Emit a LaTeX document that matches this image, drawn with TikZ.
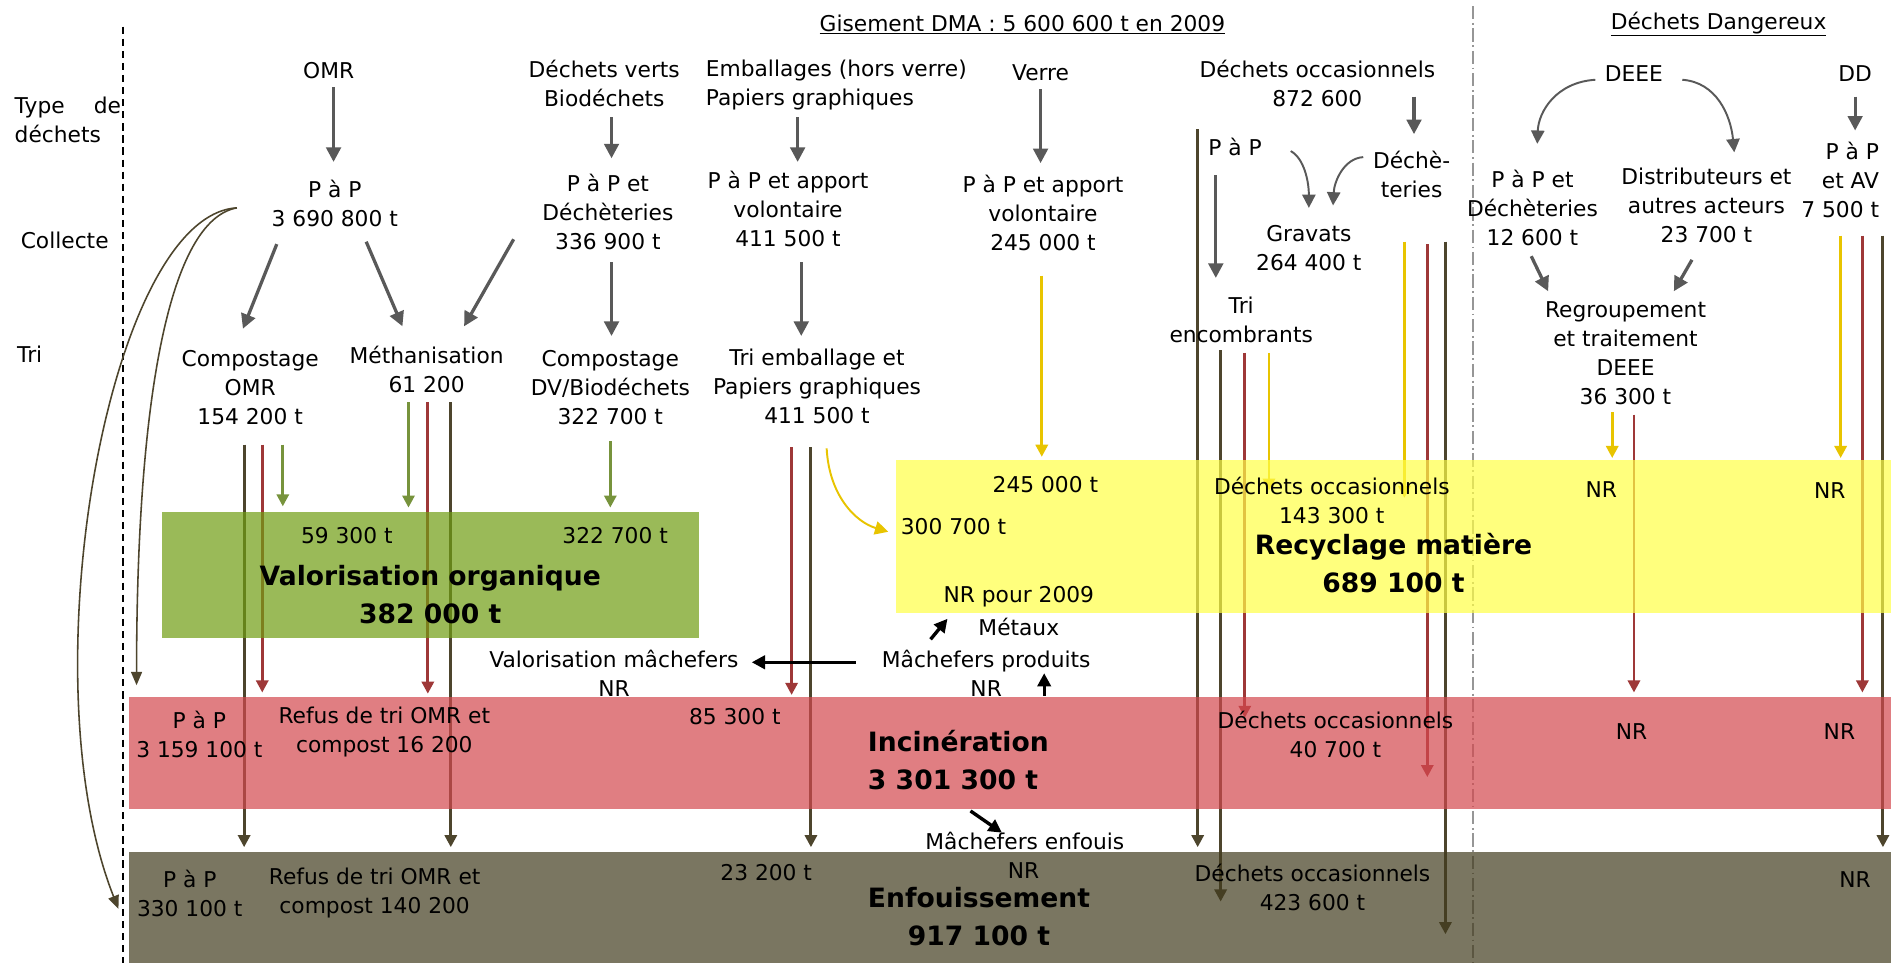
\documentclass[tikz,border=0pt]{standalone}
\usepackage{fontspec}
\setmainfont{DejaVu Sans}
\usetikzlibrary{arrows.meta}
\pgfdeclarelayer{bg}
\pgfdeclarelayer{lines}
\pgfdeclarelayer{bands}
\pgfsetlayers{bg,lines,bands,main}
\definecolor{cgray}{RGB}{89,89,89}
\definecolor{cbrown}{RGB}{77,69,45}
\definecolor{cred}{RGB}{158,56,56}
\definecolor{cgreen}{RGB}{119,147,60}
\definecolor{cyellow}{RGB}{232,196,0}
\definecolor{bgreen}{RGB}{112,158,18}
\definecolor{bred}{RGB}{212,72,78}
\definecolor{byellow}{RGB}{255,255,70}
\definecolor{bbrown}{RGB}{66,60,30}
\definecolor{sepgray}{RGB}{150,150,150}
\begin{document}
\begin{tikzpicture}[x=1pt,y=-1pt,
 txt/.style={font=\fontsize{18}{24}\selectfont,align=center,inner sep=0pt},
 bigtxt/.style={font=\bfseries\fontsize{22}{31}\selectfont,align=center,inner sep=0pt},
 grayarr/.style={draw=cgray,line width=2.7pt,-{Triangle[length=12pt,width=12pt]}},
 graycurve/.style={draw=cgray,line width=1.6pt,-{Triangle[length=11pt,width=11pt]}},
 flow/.style={line width=2.4pt,-{Triangle[length=10pt,width=10pt]}},
 browncurve/.style={draw=cbrown,line width=1.3pt,-{Triangle[length=11pt,width=9pt]}},
 blackarr/.style={draw=black,line width=2.8pt,-{Triangle[length=11pt,width=11pt]}},
 band/.style={draw=none,fill opacity=0.7,inner sep=0pt},
]
\useasboundingbox (0,0) rectangle (1568,797);
\begin{pgfonlayer}{bg}
\fill[white] (0,0) rectangle (1568,797);
\end{pgfonlayer}

% ---------- headers and left labels ----------
\node[txt] (gis) at (846,20) {\underline{Gisement DMA : 5 600 600 t en 2009}};
\node[txt] (dang) at (1422,20) {\underline{Déchets Dangereux}};
\node[txt,align=left,anchor=west] (typ) at (12,99) {\makebox[88pt][s]{Type de}\\déchets};
\node[txt,anchor=west] (col) at (17,199) {Collecte};
\node[txt,anchor=west] (tri) at (14,293) {Tri};

% ---------- types ----------
\node[txt] (omr) at (272,58) {OMR};
\node[txt] (dv) at (500,69) {Déchets verts\\Biodéchets};
\node[txt,align=left] (emb) at (692,70) {Emballages (hors verre)\\Papiers graphiques};
\node[txt] (verre) at (861,60) {Verre};
\node[txt] (occ) at (1090,69) {Déchets occasionnels\\872 600};
\node[txt] (deee) at (1352,61) {DEEE};
\node[txt] (ddn) at (1535,61) {DD};

% ---------- collecte ----------
\node[txt] (pap1) at (277,168) {P à P\\3 690 800 t};
\node[txt] (pap2) at (503,175) {P à P et\\Déchèteries\\336 900 t};
\node[txt] (pap3) at (652,173) {P à P et apport\\volontaire\\411 500 t};
\node[txt] (pap4) at (863,176) {P à P et apport\\volontaire\\245 000 t};
\node[txt] (pap5) at (1022,122) {P à P};
\node[txt] (dech) at (1168,144) {Déchè-\\teries};
\node[txt] (grav) at (1083,205) {Gravats\\264 400 t};
\node[txt] (pap6) at (1268,172) {P à P et\\Déchèteries\\12 600 t};
\node[txt] (distr) at (1412,170) {Distributeurs et\\autres acteurs\\23 700 t};
\node[txt,align=right,anchor=east] (pap7) at (1555,149) {P à P\\et AV\\7 500 t};

% ---------- tri ----------
\node[txt] (comp1) at (207,321) {Compostage\\OMR\\154 200 t};
\node[txt] (meth) at (353,306) {Méthanisation\\61 200};
\node[txt] (comp2) at (505,321) {Compostage\\DV/Biodéchets\\322 700 t};
\node[txt] (triemb) at (676,320) {Tri emballage et\\Papiers graphiques\\411 500 t};
\node[txt] (trienc) at (1027,265) {Tri\\encombrants};
\node[txt] (regr) at (1345,292) {Regroupement\\et traitement\\DEEE\\36 300 t};

% ---------- bands ----------
\begin{pgfonlayer}{bands}
\node[band,fill=bgreen,minimum width=444pt,minimum height=104pt] (bxg) at (356,476) {};
\node[band,fill=byellow,minimum width=824pt,minimum height=126pt] (bxy) at (1153,444) {};
\node[band,fill=bred,minimum width=1458pt,minimum height=92pt] (bxr) at (836,623) {};
\node[band,fill=bbrown,minimum width=1458pt,minimum height=92pt] (bxe) at (836,751) {};
\end{pgfonlayer}

% ---------- band texts ----------
\node[txt] (g1) at (287,443) {59 300 t};
\node[txt] (g2) at (509,443) {322 700 t};
\node[bigtxt] (g3) at (356,492) {Valorisation organique\\382 000 t};
\node[txt] (y1) at (865,401) {245 000 t};
\node[txt] (y2) at (789,436) {300 700 t};
\node[txt] (y3) at (843,494) {NR pour 2009};
\node[txt] (y4) at (1102,414) {Déchets occasionnels\\143 300 t};
\node[bigtxt] (y5) at (1153,466) {Recyclage matière\\689 100 t};
\node[txt] (y6) at (1325,405) {NR};
\node[txt] (y7) at (1514,406) {NR};
\node[txt] (r1) at (165,608) {P à P\\3 159 100 t};
\node[txt] (r2) at (318,606) {Refus de tri OMR et\\compost 16 200};
\node[txt] (r3) at (608,593) {85 300 t};
\node[bigtxt,align=left,anchor=west] (r4) at (718,629) {Incinération\\3 301 300 t};
\node[txt] (r5) at (1105,608) {Déchets occasionnels\\40 700 t};
\node[txt] (r6) at (1350,605) {NR};
\node[txt] (r7) at (1522,605) {NR};
\node[txt] (e1) at (157,739) {P à P\\330 100 t};
\node[txt] (e2) at (310,739) {Refus de tri OMR et\\compost 140 200};
\node[txt] (e3) at (634,722) {23 200 t};
\node[txt] (e4) at (847,720) {NR};
\node[bigtxt,anchor=west] (e5) at (718,743) {Enfouissement};
\node[bigtxt] (e6) at (810,774) {917 100 t};
\node[txt] (e7) at (1086,734) {Déchets occasionnels\\423 600 t};
\node[txt] (e8) at (1535,728) {NR};

% ---------- middle texts ----------
\node[txt] (met) at (843,519) {Métaux};
\node[txt] (mp) at (816,557) {Mâchefers produits\\NR};
\node[txt] (vm) at (508,557) {Valorisation mâchefers\\NR};
\node[txt] (me) at (848,696) {Mâchefers enfouis};

% ---------- coordinates for connectors ----------
\coordinate (a1s) at (276,72);   \coordinate (a1e) at (276,134);
\coordinate (a2s) at (506,97);   \coordinate (a2e) at (506,131);
\coordinate (a3s) at (660,97);   \coordinate (a3e) at (660,134);
\coordinate (a4s) at (861,74);   \coordinate (a4e) at (861,135);
\coordinate (a5s) at (1170,80);  \coordinate (a5e) at (1170,111);
\coordinate (a6s) at (1535,80);  \coordinate (a6e) at (1535,108);
\coordinate (dls) at (1320,66);  \coordinate (dle) at (1272,119);
\coordinate (drs) at (1392,66);  \coordinate (dre) at (1435,126);
\coordinate (b1s) at (229,202);  \coordinate (b1e) at (201,272);
\coordinate (b2s) at (303,200);  \coordinate (b2e) at (333,270);
\coordinate (b3s) at (425,198);  \coordinate (b3e) at (384,270);
\coordinate (b4s) at (506,217);  \coordinate (b4e) at (506,278);
\coordinate (b5s) at (663,217);  \coordinate (b5e) at (663,278);
\coordinate (b6s) at (1006,145); \coordinate (b6e) at (1006,230);
\coordinate (c1s) at (1068,125); \coordinate (c1e) at (1083,172);
\coordinate (c2s) at (1128,130); \coordinate (c2e) at (1103,170);
\coordinate (d1s) at (1267,212); \coordinate (d1e) at (1281,241);
\coordinate (d2s) at (1400,215); \coordinate (d2e) at (1385,241);
\coordinate (k1s) at (708,548);  \coordinate (k1e) at (622,548);
\coordinate (k2s) at (770,529);  \coordinate (k2e) at (784,512);
\coordinate (k3s) at (864,576);  \coordinate (k3e) at (864,557);
\coordinate (k4s) at (803,671);  \coordinate (k4e) at (829,689);

% ---------- separators ----------
\begin{pgfonlayer}{lines}
\draw[black,line width=1.3pt,dash pattern=on 6pt off 4pt] (102,22) -- (102,797);
\draw[sepgray,line width=1.3pt,dash pattern=on 11pt off 3pt on 1.5pt off 3pt] (1219,5) -- (1219,797);

% gray arrows
\draw[grayarr] (a1s) -- (a1e);
\draw[grayarr] (a2s) -- (a2e);
\draw[grayarr] (a3s) -- (a3e);
\draw[grayarr] (a4s) -- (a4e);
\draw[grayarr] (a5s) -- (a5e);
\draw[grayarr] (a6s) -- (a6e);
\draw[grayarr] (b1s) -- (b1e);
\draw[grayarr] (b2s) -- (b2e);
\draw[grayarr] (b3s) -- (b3e);
\draw[grayarr] (b4s) -- (b4e);
\draw[grayarr] (b5s) -- (b5e);
\draw[grayarr] (b6s) -- (b6e);
\draw[grayarr] (d1s) -- (d1e);
\draw[grayarr] (d2s) -- (d2e);
\draw[graycurve] (dls) .. controls (1288,68) and (1273,92) .. (dle);
\draw[graycurve] (drs) .. controls (1420,68) and (1432,95) .. (dre);
\draw[graycurve] (c1s) .. controls (1079,131) and (1083,150) .. (c1e);
\draw[graycurve] (c2s) .. controls (1112,131) and (1104,150) .. (c2e);

% brown curves from P a P
\coordinate (pc1) at (196,172);
\coordinate (pc1e) at (113,567);
\coordinate (pc2e) at (98,752);
\draw[browncurve] (pc1) .. controls (140,182) and (113,330) .. (pc1e);
\draw[browncurve] (pc1) .. controls (90,178) and (22,560) .. (pc2e);

% flows: compostage OMR
\coordinate (f1s) at (202,368); \coordinate (f1e) at (202,701);
\coordinate (f2s) at (217,368); \coordinate (f2e) at (217,573);
\coordinate (f3s) at (234,368); \coordinate (f3e) at (234,419);
\draw[flow,cbrown] (f1s) -- (f1e);
\draw[flow,cred] (f2s) -- (f2e);
\draw[flow,cgreen] (f3s) -- (f3e);
% methanisation
\coordinate (f4s) at (338,333); \coordinate (f4e) at (338,420);
\coordinate (f5s) at (354,333); \coordinate (f5e) at (354,574);
\coordinate (f6s) at (373,333); \coordinate (f6e) at (373,701);
\draw[flow,cgreen] (f4s) -- (f4e);
\draw[flow,cred] (f5s) -- (f5e);
\draw[flow,cbrown] (f6s) -- (f6e);
% compostage DV
\coordinate (f7s) at (505,365); \coordinate (f7e) at (505,420);
\draw[flow,cgreen] (f7s) -- (f7e);
% tri emballage
\coordinate (f8s) at (655,370); \coordinate (f8e) at (655,575);
\coordinate (f9s) at (671,370); \coordinate (f9e) at (671,701);
\coordinate (f10s) at (684,371); \coordinate (f10e) at (735,440);
\draw[flow,cred] (f8s) -- (f8e);
\draw[flow,cbrown] (f9s) -- (f9e);
\draw[cyellow,line width=1.6pt,-{Triangle[length=11pt,width=11pt]}] (f10s) .. controls (686,410) and (708,432) .. (f10e);
% verre
\coordinate (f11s) at (862,228); \coordinate (f11e) at (862,378);
\draw[flow,cyellow] (f11s) -- (f11e);
% dechets occasionnels P a P
\coordinate (f12s) at (991,107); \coordinate (f12e) at (991,701);
\draw[flow,cbrown] (f12s) -- (f12e);
% tri encombrants
\coordinate (f13s) at (1010,290); \coordinate (f13e) at (1010,746);
\coordinate (f14s) at (1030,292); \coordinate (f14e) at (1030,594);
\coordinate (f15s) at (1050,292); \coordinate (f15e) at (1050,406);
\draw[flow,cbrown] (f13s) -- (f13e);
\draw[flow,cred] (f14s) -- (f14e);
\draw[flow,cyellow] (f15s) -- (f15e);
% decheteries
\coordinate (f16s) at (1162,200); \coordinate (f16e) at (1162,412);
\coordinate (f17s) at (1181,202); \coordinate (f17e) at (1181,643);
\coordinate (f18s) at (1196,200); \coordinate (f18e) at (1196,773);
\draw[flow,cyellow] (f16s) -- (f16e);
\draw[flow,cred] (f17s) -- (f17e);
\draw[flow,cbrown] (f18s) -- (f18e);
% regroupement DEEE
\coordinate (f19s) at (1334,341); \coordinate (f19e) at (1334,379);
\coordinate (f20s) at (1352,343); \coordinate (f20e) at (1352,573);
\draw[flow,cyellow] (f19s) -- (f19e);
\draw[flow,cred] (f20s) -- (f20e);
% DD
\coordinate (f21s) at (1523,195); \coordinate (f21e) at (1523,379);
\coordinate (f22s) at (1541,195); \coordinate (f22e) at (1541,573);
\coordinate (f23s) at (1558,195); \coordinate (f23e) at (1558,701);
\draw[flow,cyellow] (f21s) -- (f21e);
\draw[flow,cred] (f22s) -- (f22e);
\draw[flow,cbrown] (f23s) -- (f23e);
\end{pgfonlayer}

% black arrows around machefers
\draw[blackarr] (k1s) -- (k1e);
\draw[blackarr] (k2s) -- (k2e);
\draw[blackarr] (k3s) -- (k3e);
\draw[blackarr] (k4s) -- (k4e);
\end{tikzpicture}
\end{document}
